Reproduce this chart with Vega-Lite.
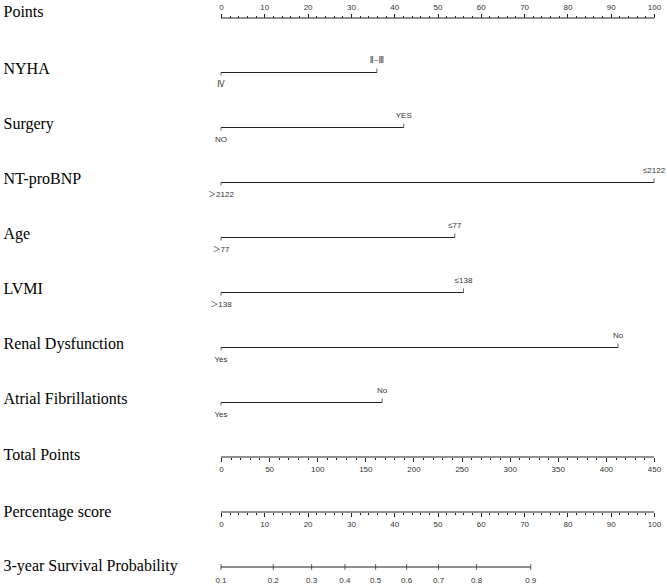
{
  "$schema": "https://vega.github.io/schema/vega-lite/v6.json",
  "background": "white",
  "autosize": {"type": "pad"},
  "padding": {"left": 3, "top": 2.5, "right": 0, "bottom": 0},
  "spacing": 54,
  "bounds": "flush",
  "config": {
    "view": {"stroke": null},
    "axisY": {"title": null, "domain": false, "ticks": false, "tickSize": 0, "grid": false, "labelAlign": "left", "labelPadding": 218, "labelFont": "Liberation Serif", "labelFontSize": 16, "labelColor": "#000000", "labelBaseline": "alphabetic", "labelOffset": 1},
    "axisX": {"title": null, "grid": false, "domain": false, "labelFont": "Liberation Sans", "labelFontSize": 8, "labelColor": "#333333", "tickColor": "#222222", "tickWidth": 1, "labelFlush": false, "labelOverlap": false},
    "text": {"font": "Liberation Sans, DejaVu Sans, Noto Sans CJK SC", "fontSize": 8, "color": "#333333"},
    "rule": {"color": "#222222", "strokeWidth": 1},
    "tick": {"color": "#222222", "thickness": 1}
  },
  "datasets": {
    "levels": [
      {"variable": "NYHA", "level": "Ⅳ", "points": 0, "side": "low"},
      {"variable": "NYHA", "level": "Ⅱ~Ⅲ", "points": 36, "side": "high"},
      {"variable": "Surgery", "level": "NO", "points": 0, "side": "low"},
      {"variable": "Surgery", "level": "YES", "points": 42.2, "side": "high"},
      {"variable": "NT-proBNP", "level": "＞2122", "points": 0, "side": "low"},
      {"variable": "NT-proBNP", "level": "≤2122", "points": 100, "side": "high"},
      {"variable": "Age", "level": "＞77", "points": 0, "side": "low"},
      {"variable": "Age", "level": "≤77", "points": 54, "side": "high"},
      {"variable": "LVMI", "level": "＞138", "points": 0, "side": "low"},
      {"variable": "LVMI", "level": "≤138", "points": 56, "side": "high"},
      {"variable": "Renal Dysfunction", "level": "Yes", "points": 0, "side": "low"},
      {"variable": "Renal Dysfunction", "level": "No", "points": 91.7, "side": "high"},
      {"variable": "Atrial Fibrillationts", "level": "Yes", "points": 0, "side": "low"},
      {"variable": "Atrial Fibrillationts", "level": "No", "points": 37.2, "side": "high"}
    ],
    "survival": [
      {"row": "3-year Survival Probability", "p": 0.1, "tp": 0},
      {"row": "3-year Survival Probability", "p": 0.2, "tp": 54.3},
      {"row": "3-year Survival Probability", "p": 0.3, "tp": 94.2},
      {"row": "3-year Survival Probability", "p": 0.4, "tp": 128.8},
      {"row": "3-year Survival Probability", "p": 0.5, "tp": 160.7},
      {"row": "3-year Survival Probability", "p": 0.6, "tp": 192.9},
      {"row": "3-year Survival Probability", "p": 0.7, "tp": 226.1},
      {"row": "3-year Survival Probability", "p": 0.8, "tp": 265.6},
      {"row": "3-year Survival Probability", "p": 0.9, "tp": 321.9}
    ]
  },
  "vconcat": [
    {
      "width": 433, "height": 1,
      "data": {"values": [{"row": "Points", "lo": 0, "hi": 100}]},
      "mark": "rule",
      "encoding": {
        "y": {"field": "row", "type": "nominal", "scale": {"type": "point", "padding": 0}, "axis": {"labelOffset": -2}},
        "x": {"field": "lo", "type": "quantitative", "scale": {"domain": [0, 100], "nice": false, "zero": false},
          "axis": {"orient": "top", "values": [0,2,4,6,8,10,12,14,16,18,20,22,24,26,28,30,32,34,36,38,40,42,44,46,48,50,52,54,56,58,60,62,64,66,68,70,72,74,76,78,80,82,84,86,88,90,92,94,96,98,100],
            "labelExpr": "datum.value % 10 === 0 ? datum.label : ''",
            "tickSize": {"condition": {"test": "datum.value % 10 === 0", "value": 4}, "value": 2},
            "labelPadding": 2}},
        "x2": {"field": "hi"}
      }
    },
    {
      "width": 433, "height": 330,
      "data": {"name": "levels"},
      "encoding": {
        "y": {"field": "variable", "type": "nominal", "sort": null, "scale": {"type": "point", "padding": 0}, "axis": {"labelOffset": 0.5}},
        "x": {"type": "quantitative", "scale": {"domain": [0, 100], "nice": false, "zero": false}, "axis": null}
      },
      "layer": [
        {"mark": "rule", "encoding": {"x": {"aggregate": "min", "field": "points", "type": "quantitative"}, "x2": {"aggregate": "max", "field": "points"}}},
        {"transform": [{"filter": "datum.side === 'low'"}], "mark": {"type": "tick", "orient": "vertical", "size": 3, "yOffset": 1.5}, "encoding": {"x": {"field": "points", "type": "quantitative"}}},
        {"transform": [{"filter": "datum.side === 'high'"}], "mark": {"type": "tick", "orient": "vertical", "size": 4, "yOffset": -2}, "encoding": {"x": {"field": "points", "type": "quantitative"}}},
        {"transform": [{"filter": "datum.side === 'low'"}], "mark": {"type": "text", "dy": 12.5, "baseline": "middle", "align": "center"}, "encoding": {"x": {"field": "points", "type": "quantitative"}, "text": {"field": "level"}}},
        {"transform": [{"filter": "datum.side === 'high'"}], "mark": {"type": "text", "dy": -11.5, "baseline": "middle", "align": "center"}, "encoding": {"x": {"field": "points", "type": "quantitative"}, "text": {"field": "level"}}}
      ]
    },
    {
      "width": 433, "height": 1,
      "data": {"values": [{"row": "Total Points", "lo": 0, "hi": 450}]},
      "mark": "rule",
      "encoding": {
        "y": {"field": "row", "type": "nominal", "scale": {"type": "point", "padding": 0}, "axis": {"labelOffset": 2}},
        "x": {"field": "lo", "type": "quantitative", "scale": {"domain": [0, 450], "nice": false, "zero": false},
          "axis": {"orient": "bottom", "values": [0,10,20,30,40,50,60,70,80,90,100,110,120,130,140,150,160,170,180,190,200,210,220,230,240,250,260,270,280,290,300,310,320,330,340,350,360,370,380,390,400,410,420,430,440,450],
            "labelExpr": "datum.value % 50 === 0 ? datum.label : ''",
            "tickSize": {"condition": {"test": "datum.value % 50 === 0", "value": 4}, "value": 2},
            "labelPadding": 4}},
        "x2": {"field": "hi"}
      }
    },
    {
      "width": 433, "height": 1,
      "data": {"values": [{"row": "Percentage score", "lo": 0, "hi": 100}]},
      "mark": "rule",
      "encoding": {
        "y": {"field": "row", "type": "nominal", "scale": {"type": "point", "padding": 0}, "axis": {"labelOffset": 4}},
        "x": {"field": "lo", "type": "quantitative", "scale": {"domain": [0, 100], "nice": false, "zero": false},
          "axis": {"orient": "bottom", "values": [0,2,4,6,8,10,12,14,16,18,20,22,24,26,28,30,32,34,36,38,40,42,44,46,48,50,52,54,56,58,60,62,64,66,68,70,72,74,76,78,80,82,84,86,88,90,92,94,96,98,100],
            "labelExpr": "datum.value % 10 === 0 ? datum.label : ''",
            "tickSize": {"condition": {"test": "datum.value % 10 === 0", "value": 4}, "value": 2},
            "labelPadding": 4}},
        "x2": {"field": "hi"}
      }
    },
    {
      "width": 433, "height": 1,
      "data": {"name": "survival"},
      "encoding": {
        "y": {"field": "row", "type": "nominal", "scale": {"type": "point", "padding": 0}, "axis": {"labelOffset": 3}},
        "x": {"type": "quantitative", "scale": {"domain": [0, 450], "nice": false, "zero": false}, "axis": null}
      },
      "layer": [
        {"mark": "rule", "encoding": {"x": {"aggregate": "min", "field": "tp", "type": "quantitative"}, "x2": {"aggregate": "max", "field": "tp"}}},
        {"mark": {"type": "tick", "orient": "vertical", "size": 6, "thickness": 1, "color": "#222222"}, "encoding": {"x": {"field": "tp", "type": "quantitative"}}},
        {"mark": {"type": "text", "dy": 14, "baseline": "middle", "align": "center"}, "encoding": {"x": {"field": "tp", "type": "quantitative"}, "text": {"field": "p", "type": "quantitative", "format": ".1f"}}}
      ]
    }
  ]
}
